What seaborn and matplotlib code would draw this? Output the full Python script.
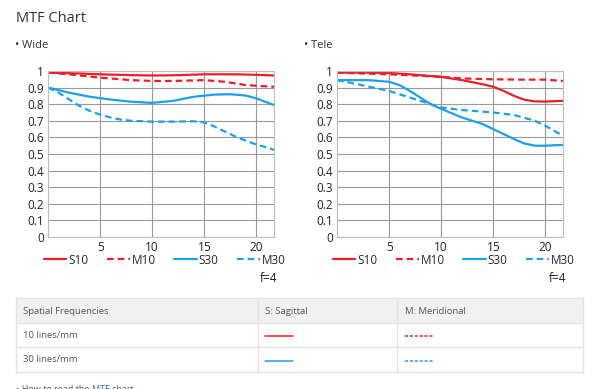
import pandas as pd
import seaborn as sns
import matplotlib.pyplot as plt
from matplotlib.patches import Rectangle
from matplotlib.lines import Line2D

# MTF readings (position from image centre in mm -> contrast)
wide_s10_x = [0, 3, 5, 8, 10, 12, 15, 18, 20, 21.7]
wide_s10_y = [0.99, 0.985, 0.98, 0.975, 0.973, 0.974, 0.98, 0.98, 0.977, 0.973]
wide_m10_x = [0, 2, 5, 8, 10, 12, 15, 17, 19, 21.7]
wide_m10_y = [0.99, 0.98, 0.96, 0.945, 0.94, 0.94, 0.945, 0.935, 0.915, 0.905]
wide_s30_x = [0, 2, 4, 6, 8, 10, 12, 14, 16, 17.5, 19, 20, 21.7]
wide_s30_y = [0.90, 0.87, 0.845, 0.828, 0.815, 0.808, 0.82, 0.845, 0.858, 0.86, 0.852, 0.835, 0.795]
wide_m30_x = [0, 1, 2, 3, 4, 5, 6, 7, 8, 10, 12, 14, 15, 16, 17, 18, 19, 20, 21, 21.7]
wide_m30_y = [0.90, 0.87, 0.83, 0.79, 0.76, 0.737, 0.72, 0.707, 0.70, 0.695, 0.695, 0.697,
              0.69, 0.665, 0.635, 0.605, 0.58, 0.557, 0.54, 0.525]

tele_s10_x = [0, 3, 5, 7, 10, 12, 14, 15, 16, 17, 18, 19, 20, 21.7]
tele_s10_y = [0.99, 0.99, 0.988, 0.98, 0.965, 0.945, 0.92, 0.905, 0.88, 0.85, 0.827, 0.817, 0.816, 0.82]
tele_m10_x = [0, 5, 10, 12, 15, 18, 20, 21.7]
tele_m10_y = [0.99, 0.98, 0.965, 0.955, 0.95, 0.948, 0.948, 0.94]
tele_s30_x = [0, 3, 5, 6, 7, 8, 9, 10, 12, 14, 15, 16, 17, 18, 19, 20, 21.7]
tele_s30_y = [0.945, 0.945, 0.935, 0.915, 0.88, 0.84, 0.80, 0.772, 0.72, 0.68, 0.65, 0.62,
              0.59, 0.563, 0.55, 0.55, 0.555]
tele_m30_x = [0, 2, 5, 8, 10, 12, 15, 17, 19, 20, 21.7]
tele_m30_y = [0.945, 0.92, 0.88, 0.82, 0.78, 0.765, 0.75, 0.735, 0.70, 0.67, 0.61]

curve_names = ["S10", "M10", "S30", "M30"]
x_ticks = [5, 10, 15, 20]
y_ticks = [0, 0.1, 0.2, 0.3, 0.4, 0.5, 0.6, 0.7, 0.8, 0.9, 1]
y_tick_labels = ["0", "0.1", "0.2", "0.3", "0.4", "0.5", "0.6", "0.7", "0.8", "0.9", "1"]

table_header = ["Spatial Frequencies", "S: Sagittal", "M: Meridional"]
table_rows = ["10 lines/mm", "30 lines/mm"]

RED = "#e8202a"
BLUE = "#1ea0e6"
TEXT = "#333333"
palette = {"S10": RED, "M10": RED, "S30": BLUE, "M30": BLUE}
dash_map = {"S10": "", "M10": (3.0, 1.8), "S30": "", "M30": (3.0, 1.8)}


def long_frame(xs, ys):
    parts = []
    for name, x, y in zip(curve_names, xs, ys):
        parts.append(pd.DataFrame({"pos": x, "mtf": y, "curve": name}))
    return pd.concat(parts, ignore_index=True)


wide_df = long_frame([wide_s10_x, wide_m10_x, wide_s30_x, wide_m30_x],
                     [wide_s10_y, wide_m10_y, wide_s30_y, wide_m30_y])
tele_df = long_frame([tele_s10_x, tele_m10_x, tele_s30_x, tele_m30_x],
                     [tele_s10_y, tele_m10_y, tele_s30_y, tele_m30_y])

sns.set_style("white")
plt.rcParams["font.family"] = ["Open Sans", "DejaVu Sans"]

W, H = 600, 389
fig = plt.figure(figsize=(6, 3.89), dpi=100)


def fx(px):
    return px / W


def fy(py):
    return 1 - py / H


def draw_panel(df, left, right):
    ax = fig.add_axes([fx(left), fy(237), fx(right - left), fy(71) - fy(237)])
    sns.lineplot(data=df, x="pos", y="mtf", hue="curve", style="curve",
                 palette=palette, dashes=dash_map, sort=False, lw=1.6,
                 estimator=None, ax=ax)
    ax.set_xlim(0, 21.7)
    ax.set_ylim(0, 1)
    ax.set_xticks(x_ticks)
    ax.set_yticks(y_ticks)
    ax.set_yticklabels(y_tick_labels)
    ax.grid(True, color="#9a9a9a", lw=0.8)
    ax.set_axisbelow(True)
    for s in ax.spines.values():
        s.set_color("#bdbdbd")
        s.set_linewidth(0.8)
    ax.tick_params(length=0, labelsize=8.5, colors="#222222", pad=3)
    ax.set_xlabel("")
    ax.set_ylabel("")
    handles, labels = ax.get_legend_handles_labels()
    ax.legend_.remove()
    fig.legend(handles, labels, loc="center left",
               bbox_to_anchor=(fx(left - 4), fy(260)),
               ncol=4, frameon=False, fontsize=8.5, handlelength=1.9,
               handletextpad=0.15, columnspacing=1.6, borderpad=0,
               borderaxespad=0)
    fig.text(fx(right + 3), fy(278), "f=4", ha="right", va="center",
             fontsize=8.5, color="#222222")
    return ax


draw_panel(wide_df, 48, 274)
draw_panel(tele_df, 337, 563)

fig.text(fx(16), fy(18), "MTF Chart", fontsize=10.5, color=TEXT, va="center")
fig.text(fx(15), fy(46), "• Wide", fontsize=8, color=TEXT, va="center")
fig.text(fx(304), fy(46), "• Tele", fontsize=8, color=TEXT, va="center")

# spec table
grid_c = "#e3e3e3"
fig.patches.append(Rectangle((fx(16), fy(323)), fx(583 - 16), fy(298) - fy(323),
                             transform=fig.transFigure, facecolor="#f1f1f1",
                             edgecolor="none"))
for py in [298, 323, 347, 372]:
    fig.lines.append(Line2D([fx(16), fx(583)], [fy(py), fy(py)],
                            transform=fig.transFigure, color=grid_c, lw=1))
for px in [16, 258, 397, 583]:
    fig.lines.append(Line2D([fx(px), fx(px)], [fy(298), fy(372)],
                            transform=fig.transFigure, color=grid_c, lw=1))

col_x = [23, 265, 405]
for cx, label in zip(col_x, table_header):
    fig.text(fx(cx), fy(311), label, fontsize=6.8, color="#555555", va="center")
for (ry, label), color in zip(zip([335, 360], table_rows), [RED, BLUE]):
    fig.text(fx(col_x[0]), fy(ry), label, fontsize=6.8, color="#555555", va="center")
    fig.lines.append(Line2D([fx(265), fx(293)], [fy(ry + 1), fy(ry + 1)],
                            transform=fig.transFigure, color=color, lw=1.1))
    fig.lines.append(Line2D([fx(405), fx(433)], [fy(ry + 1), fy(ry + 1)],
                            transform=fig.transFigure, color=color, lw=1.1,
                            linestyle=(0, (2, 1.2))))

# link line at the page bottom (cut off in the screenshot)
note = fig.text(fx(16), fy(385), "• How to read the ", fontsize=6.5,
                color="#555555", va="top")
fig.canvas.draw()
bb = note.get_window_extent().transformed(fig.transFigure.inverted())
fig.text(bb.x1, fy(385), "MTF chart", fontsize=6.5, color="#3a5fcd", va="top")

fig.savefig("out.png", dpi=100, facecolor="white")
